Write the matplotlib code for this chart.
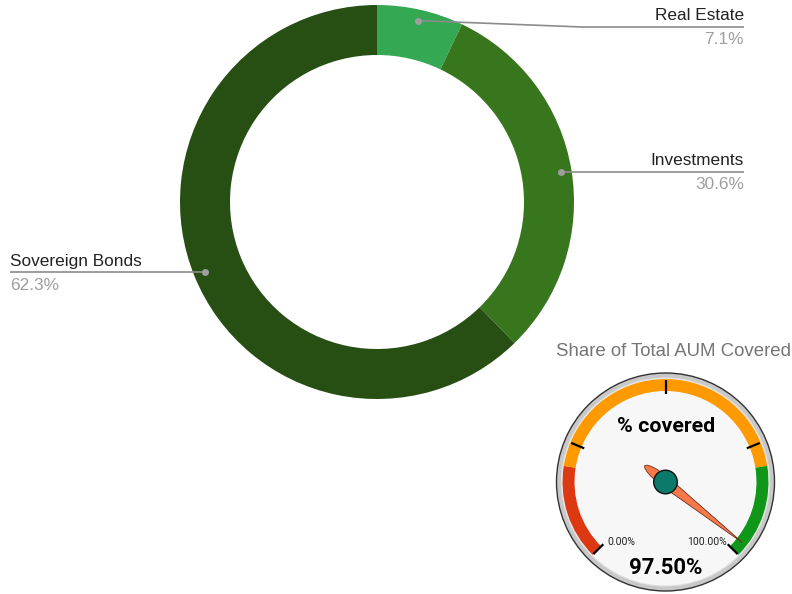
import numpy as np
import matplotlib
matplotlib.use('Agg')
import matplotlib.pyplot as plt
from matplotlib.patches import Wedge, Circle, Polygon

# Allocation donut
categories = ['Real Estate', 'Investments', 'Sovereign Bonds']
shares = [7.1, 30.6, 62.3]
colors = ['#34a853', '#38761d', '#274e13']

# Coverage gauge
gauge_title = 'Share of Total AUM Covered'
gauge_label = '% covered'
gauge_value = 97.5
gauge_min, gauge_max = 0.0, 100.0
band_edges = [0, 20, 80, 100]
band_colors = ['#dc3912', '#ff9900', '#109618']
major_ticks = [0, 25, 50, 75, 100]

W, H = 792, 594
fig = plt.figure(figsize=(W / 100, H / 100), dpi=100)
ax = fig.add_axes([0, 0, 1, 1])

def Y(y):
    # layout is measured from the top edge
    return H - y

# --- donut ---
cx, cy, r_out, ring = 377, Y(202), 197, 50
ax.pie(shares, radius=r_out, center=(cx, cy), startangle=90, counterclock=False,
       colors=colors, wedgeprops=dict(width=ring, edgecolor='none', linewidth=0))

cum = np.cumsum([0] + shares)
mid = 90 - (cum[:-1] + np.array(shares) / 2) * 3.6
r_dot = 186
label_font = dict(family='Liberation Sans', fontsize=12.4)
lead_col = '#8c8c8c'
pct_col = '#9e9e9e'

# (elbow point, line end x, text anchor x, ha, line y)
leaders = [
    ((582, 27), 744, 'right', 27),
    (None, 744, 'right', 172),
    (None, 10, 'left', 272),
]
for i, (elbow, xend, ha, ly) in enumerate(leaders):
    a = np.deg2rad(mid[i])
    px, py = cx + r_dot * np.cos(a), cy + r_dot * np.sin(a)
    ax.plot(px, py, 'o', ms=4, color='#9e9e9e', zorder=5)
    if elbow is not None:
        xs = [px, elbow[0], xend]
        ys = [py, Y(elbow[1]), Y(ly)]
    else:
        xs = [px, xend]
        ys = [py, py]
    ax.plot(xs, ys, color=lead_col, lw=1.2, zorder=4, solid_capstyle='butt')
    ax.text(xend, ys[-1] + 11, categories[i], ha=ha, va='center', color='#222222', **label_font)
    ax.text(xend, ys[-1] - 13, '%.1f%%' % shares[i], ha=ha, va='center', color=pct_col, **label_font)

# --- gauge ---
gx, gy = 665.5, Y(482)

def ang(v):
    return 225 - 270 * (v - gauge_min) / (gauge_max - gauge_min)

ax.text(673, Y(352), gauge_title, ha='center', va='center', color='#757575',
        family='Liberation Sans', fontsize=13.4)

ax.add_patch(Circle((gx, gy), 109, facecolor='#c8c8c8', edgecolor='#333333', lw=1.0, zorder=6))
ax.add_patch(Circle((gx, gy), 104, facecolor='#f7f7f7', edgecolor='#e0e0e0', lw=0.8, zorder=6))

for v0, v1, c in zip(band_edges[:-1], band_edges[1:], band_colors):
    ax.add_patch(Wedge((gx, gy), 103, ang(v1), ang(v0), width=12, facecolor=c,
                       edgecolor='none', zorder=7))

for t in major_ticks:
    a = np.deg2rad(ang(t))
    ax.plot([gx + 88 * np.cos(a), gx + 102 * np.cos(a)],
            [gy + 88 * np.sin(a), gy + 102 * np.sin(a)],
            color='black', lw=1.6, zorder=8, solid_capstyle='butt')

ax.text(607, Y(542), '%.2f%%' % gauge_min, ha='left', va='center', fontsize=7.5,
        family='Roboto', color='#222222', zorder=9)
ax.text(727, Y(542), '%.2f%%' % gauge_max, ha='right', va='center', fontsize=7.5,
        family='Roboto', color='#222222', zorder=9)
ax.text(666, Y(427), gauge_label, ha='center', va='center', fontsize=15.4,
        fontweight='bold', family='Roboto', color='black', zorder=9)
ax.text(666, Y(568), '%.2f%%' % gauge_value, ha='center', va='center', fontsize=16,
        fontweight='bold', family='Roboto', color='black', zorder=9)

# needle: long tapered blade with a short tail behind the hub
a = np.deg2rad(ang(gauge_value))
u = np.array([np.cos(a), np.sin(a)])
n = np.array([-u[1], u[0]])
prof = [(98, 0.0), (70, 1.6), (35, 3.4), (10, 4.8), (-5, 5.2), (-15, 4.6),
        (-21, 3.4), (-25, 1.8), (-26.5, 0.0)]
pts = [np.array([gx, gy]) + d * u + w * n for d, w in prof]
pts += [np.array([gx, gy]) + d * u - w * n for d, w in prof[::-1]]
ax.add_patch(Polygon(pts, closed=True, facecolor='#f97848', edgecolor='#6b3020', lw=0.6, zorder=10))
ax.add_patch(Circle((gx, gy), 11.8, facecolor='#0b7a6a', edgecolor='#111111', lw=1.0, zorder=11))

ax.set_xlim(0, W)
ax.set_ylim(0, H)
ax.set_aspect('equal')
ax.axis('off')

fig.savefig('out.png', dpi=100)
